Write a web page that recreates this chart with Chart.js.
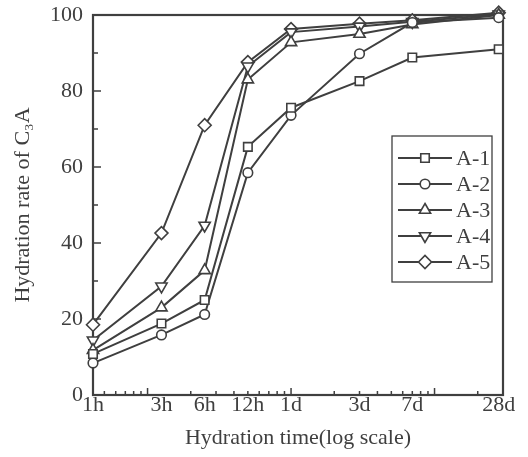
<!DOCTYPE html>
<html>
<head>
<meta charset="utf-8">
<script src="https://cdn.jsdelivr.net/npm/chart.js@4.4.0/dist/chart.umd.min.js"></script>
<style>
  html, body { margin: 0; padding: 0; background: #fff; }
  #wrap { width: 528px; height: 457px; }
</style>
</head>
<body>
<div id="wrap"><canvas id="c" width="528" height="457"></canvas></div>
<script>
// hydration time in hours, plotted on a log axis
var hours = [1, 3, 6, 12, 24, 72, 168, 672];
var timeLabels = ['1h', '3h', '6h', '12h', '1d', '3d', '7d', '28d'];

// hydration rate of C3A (%)
var a1 = [10.8, 18.8, 25.0, 65.3, 75.6, 82.6, 88.8, 91.0];
var a2 = [8.4, 15.8, 21.2, 58.5, 73.6, 89.8, 98.0, 99.3];
var a3 = [11.8, 23.0, 32.8, 83.0, 92.8, 95.0, 97.5, 100.0];
var a4 = [14.4, 28.6, 44.6, 86.5, 95.5, 97.0, 98.2, 100.2];
var a5 = [18.5, 42.6, 71.0, 87.6, 96.3, 97.7, 98.6, 100.6];
var seriesNames = ['A-1', 'A-2', 'A-3', 'A-4', 'A-5'];

var yMajor = [0, 20, 40, 60, 80, 100];
var yMinor = [10, 30, 50, 70, 90];
// the log ticks of the original axis are in days
var xMajorDays = [0.1, 1, 10];
var xMinorDays = [0.05, 0.06, 0.07, 0.08, 0.09, 0.2, 0.3, 0.4, 0.5, 0.6, 0.7, 0.8, 0.9,
                  2, 3, 4, 5, 6, 7, 8, 9, 20];

var ink = '#3f3f3f';
var serif = "'Liberation Serif', 'Times New Roman', serif";

function pts(vals) {
  var out = [];
  for (var i = 0; i < hours.length; i++) out.push({ x: hours[i], y: vals[i] });
  return out;
}

var styles = [
  { pointStyle: 'rect', radius: 6, rotation: 0 },
  { pointStyle: 'circle', radius: 4.8, rotation: 0 },
  { pointStyle: 'triangle', radius: 6.5, rotation: 0 },
  { pointStyle: 'triangle', radius: 6.5, rotation: 180 },
  { pointStyle: 'rectRot', radius: 6.5, rotation: 0 }
];

var allSeries = [a1, a2, a3, a4, a5];
var datasets = [];
for (var k = 0; k < allSeries.length; k++) {
  datasets.push({
    label: seriesNames[k],
    data: pts(allSeries[k]),
    borderColor: ink,
    borderWidth: 2,
    pointStyle: styles[k].pointStyle,
    pointRadius: styles[k].radius,
    pointRotation: styles[k].rotation,
    pointBackgroundColor: '#fff',
    pointBorderColor: ink,
    pointBorderWidth: 1.6,
    tension: 0,
    clip: false
  });
}

// frame, inward tick marks and the boxed legend
var framePlugin = {
  id: 'frame',
  beforeDatasetsDraw: function (chart) {
    var ctx = chart.ctx, a = chart.chartArea;
    var xs = chart.scales.x, ys = chart.scales.y;
    ctx.save();
    ctx.strokeStyle = ink;
    ctx.lineWidth = 1.5;
    ctx.beginPath();
    yMajor.forEach(function (v) {
      var py = ys.getPixelForValue(v);
      ctx.moveTo(a.left, py); ctx.lineTo(a.left + 8, py);
    });
    yMinor.forEach(function (v) {
      var py = ys.getPixelForValue(v);
      ctx.moveTo(a.left, py); ctx.lineTo(a.left + 5, py);
    });
    xMajorDays.forEach(function (d) {
      var px = xs.getPixelForValue(d * 24);
      ctx.moveTo(px, a.bottom); ctx.lineTo(px, a.bottom - 7);
    });
    xMinorDays.forEach(function (d) {
      var px = xs.getPixelForValue(d * 24);
      ctx.moveTo(px, a.bottom); ctx.lineTo(px, a.bottom - 4);
    });
    ctx.stroke();
    ctx.lineWidth = 2.2;
    ctx.strokeRect(a.left, a.top, a.right - a.left, a.bottom - a.top);
    ctx.restore();
  },
  afterDraw: function (chart) {
    var ctx = chart.ctx, a = chart.chartArea;
    var bx = a.right - 111, by = a.top + 121, bw = 100, bh = 146;
    ctx.save();
    ctx.fillStyle = '#fff';
    ctx.fillRect(bx, by, bw, bh);
    ctx.strokeStyle = ink;
    ctx.lineWidth = 1.3;
    ctx.strokeRect(bx, by, bw, bh);
    ctx.font = '22px ' + serif;
    ctx.textBaseline = 'middle';
    ctx.textAlign = 'left';
    chart.data.datasets.forEach(function (ds, i) {
      var ry = by + 22 + i * 26;
      ctx.strokeStyle = ink;
      ctx.lineWidth = 2;
      ctx.beginPath();
      ctx.moveTo(bx + 6, ry); ctx.lineTo(bx + 60, ry);
      ctx.stroke();
      ctx.fillStyle = '#fff';
      ctx.lineWidth = 1.6;
      Chart.helpers.drawPoint(ctx, {
        pointStyle: ds.pointStyle,
        radius: ds.pointRadius,
        rotation: ds.pointRotation,
        borderWidth: 1.6
      }, bx + 33, ry);
      ctx.fillStyle = ink;
      ctx.fillText(ds.label, bx + 64, ry + 1);
    });
    ctx.restore();
  }
};

new Chart(document.getElementById('c'), {
  type: 'line',
  data: { datasets: datasets },
  options: {
    responsive: false,
    animation: false,
    layout: { autoPadding: false, padding: { left: 0, right: 25, top: 15, bottom: 0 } },
    plugins: {
      legend: { display: false },
      tooltip: { enabled: false }
    },
    scales: {
      x: {
        type: 'logarithmic',
        min: 1,
        max: 720,
        afterBuildTicks: function (scale) {
          scale.ticks = hours.map(function (h) { return { value: h }; });
        },
        afterFit: function (scale) {
          scale.height = 62;
          scale.paddingLeft = 0; scale.paddingRight = 0;
        },
        grid: { display: false, drawTicks: false },
        border: { display: false },
        ticks: {
          autoSkip: false,
          maxRotation: 0,
          padding: -3,
          color: ink,
          font: { family: serif, size: 22 },
          callback: function (v, i) { return timeLabels[i]; }
        },
        title: {
          display: true,
          text: 'Hydration time(log scale)',
          color: ink,
          font: { family: serif, size: 22 },
          padding: { top: 0, bottom: 6 }
        }
      },
      y: {
        min: 0,
        max: 100,
        afterBuildTicks: function (scale) {
          scale.ticks = yMajor.map(function (v) { return { value: v }; });
        },
        afterFit: function (scale) {
          scale.width = 93;
          scale.paddingTop = 0; scale.paddingBottom = 0;
        },
        grid: { display: false, drawTicks: false },
        border: { display: false },
        ticks: {
          padding: 10,
          color: ink,
          font: { family: serif, size: 22 }
        },
        title: {
          display: true,
          text: 'Hydration rate of C\u2083A',
          color: ink,
          font: { family: serif, size: 22 },
          padding: { top: 10, bottom: 0 }
        }
      }
    }
  },
  plugins: [framePlugin]
});
</script>
</body>
</html>
